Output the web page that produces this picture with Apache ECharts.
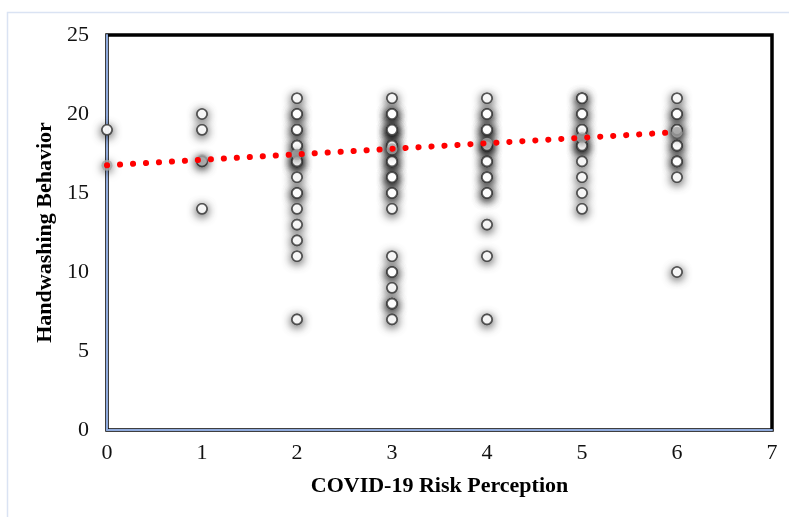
<!DOCTYPE html>
<html>
<head>
<meta charset="utf-8">
<script src="https://cdn.jsdelivr.net/npm/echarts@6/dist/echarts.min.js"></script>
<style>html,body{margin:0;padding:0;background:#fff}#c{width:789px;height:517px}</style>
</head>
<body>
<div id="c"></div>
<script>
// Observed handwashing scores per risk-perception level (repeats = overlapping respondents)
const col0 = [19];
const col1 = [20, 19, 17, 14];
const col2 = [21, 20, 20, 19, 19, 18, 18, 17, 17, 17, 16, 15, 15, 14, 13, 12, 11, 7];
const col3 = [21, 20, 20, 20, 19, 19, 19, 19, 18, 18, 18, 17, 17, 17, 16, 16, 16, 15, 15, 14, 11, 10, 10, 9, 8, 8, 7];
const col4 = [21, 20, 20, 19, 19, 19, 18, 18, 18, 17, 17, 16, 16, 15, 15, 13, 11, 7];
const col5 = [21, 21, 20, 20, 19, 19, 18, 18, 18, 17, 16, 15, 14];
const col6 = [21, 20, 20, 19, 19, 18, 18, 17, 17, 16, 10];
const riskLevels = [0, 1, 2, 3, 4, 5, 6];
const predicted = [16.75, 17.1, 17.45, 17.8, 18.15, 18.5, 18.85];
const trendX = [0, 6];
const trendY = [16.75, 18.85];
const xTicks = [0, 1, 2, 3, 4, 5, 6, 7];
const yTicks = [0, 5, 10, 15, 20, 25];

const columns = [col0, col1, col2, col3, col4, col5, col6];
const observed = [];
columns.forEach((col, i) => col.forEach(v => observed.push([riskLevels[i], v])));
const predData = riskLevels.map((x, i) => [x, predicted[i]]);
const trendData = trendX.map((x, i) => [x, trendY[i]]);

const serif = '"Liberation Serif", "Times New Roman", serif';
const chart = echarts.init(document.getElementById('c'));
chart.setOption({
  animation: false,
  backgroundColor: '#fff',
  graphic: [{
    type: 'rect', z: -10,
    shape: { x: 7.5, y: 12.5, width: 900, height: 700 },
    style: { fill: 'none', stroke: '#dae3f3', lineWidth: 1.5 }
  }],
  grid: {
    left: 107, right: 17, top: 35, bottom: 87,
    show: true, borderColor: '#000', borderWidth: 3.5, backgroundColor: 'transparent'
  },
  xAxis: {
    type: 'value', min: 0, max: 7, interval: 1,
    name: 'COVID-19 Risk Perception', nameLocation: 'middle', nameGap: 45,
    nameTextStyle: { fontFamily: serif, fontWeight: 'bold', fontSize: 22, color: '#000' },
    axisLine: { show: true, onZero: false, lineStyle: { color: '#8faadc', width: 2 } },
    axisTick: { show: false },
    splitLine: { show: false },
    axisLabel: { fontFamily: serif, fontSize: 22, color: '#111', margin: 12, formatter: v => xTicks.includes(v) ? String(v) : '' }
  },
  yAxis: {
    type: 'value', min: 0, max: 25, interval: 5,
    name: 'Handwashing Behavior', nameLocation: 'middle', nameGap: 45,
    nameTextStyle: { fontFamily: serif, fontWeight: 'bold', fontSize: 22, color: '#000', padding: [0, 0, 0, 0] },
    axisLine: { show: true, onZero: false, lineStyle: { color: '#8faadc', width: 2 } },
    axisTick: { show: false },
    splitLine: { show: false },
    axisLabel: { fontFamily: serif, fontSize: 22, color: '#111', margin: 18, formatter: v => yTicks.includes(v) ? String(v) : '' }
  },
  series: [
    {
      // glow layer beneath the observed markers
      type: 'scatter', data: observed, symbol: 'circle', symbolSize: 10, z: 1, silent: true,
      itemStyle: {
        color: '#fff', borderColor: '#404040', borderWidth: 1.6,
        shadowBlur: 10, shadowColor: 'rgba(0,0,0,0.9)', shadowOffsetY: 2
      }
    },
    {
      type: 'scatter', data: observed, symbol: 'circle', symbolSize: 10, z: 2,
      itemStyle: { color: '#fff', borderColor: '#404040', borderWidth: 1.6 }
    },
    {
      type: 'scatter', data: predData, symbol: 'circle', symbolSize: 11, z: 3,
      itemStyle: { color: '#a6a6a6', shadowBlur: 9, shadowColor: 'rgba(0,0,0,0.7)', shadowOffsetY: 2 }
    },
    {
      type: 'line', data: trendData, symbol: 'none', z: 4,
      lineStyle: { color: '#ff0000', width: 6, type: [0.1, 12.9], cap: 'round' }
    }
  ]
});
</script>
</body>
</html>
